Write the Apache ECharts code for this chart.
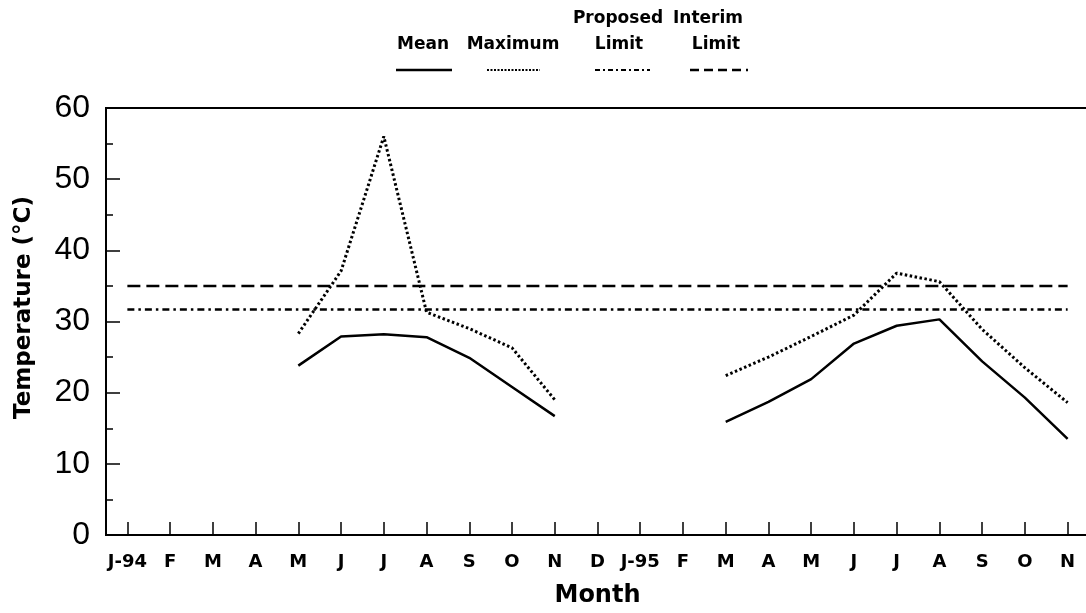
<!DOCTYPE html>
<html>
<head>
<meta charset="utf-8">
<script src="https://cdn.jsdelivr.net/npm/echarts@6/dist/echarts.min.js"></script>
<style>html,body{margin:0;padding:0;background:#fff}#c{width:1086px;height:613px}</style>
</head>
<body>
<div id="c"></div>
<script>
var months = ['J-94','F','M','A','M','J','J','A','S','O','N','D','J-95','F','M','A','M','J','J','A','S','O','N'];
var meanTemp = [null,null,null,null,23.8,27.9,28.2,27.8,24.9,20.8,16.7,null,null,null,15.9,18.7,21.9,26.9,29.4,30.3,24.4,19.3,13.5];
var maxTemp  = [null,null,null,null,28.3,37.1,56.0,31.3,29.0,26.3,19.0,null,null,null,22.4,25.0,27.9,30.9,36.8,35.6,28.9,23.5,18.6];
var proposedLimit = [31.7,31.7,31.7,31.7,31.7,31.7,31.7,31.7,31.7,31.7,31.7,31.7,31.7,31.7,31.7,31.7,31.7,31.7,31.7,31.7,31.7,31.7,31.7];
var interimLimit  = [35,35,35,35,35,35,35,35,35,35,35,35,35,35,35,35,35,35,35,35,35,35,35];
var yTicks = {min: 0, max: 60, interval: 10};

var bold = 'DejaVu Sans';
var chart = echarts.init(document.getElementById('c'), null, {renderer: 'canvas'});
function legText(t, x, y) {
  return {type: 'text', style: {text: t, x: x, y: y, align: 'center', verticalAlign: 'middle',
    fontFamily: bold, fontWeight: 'bold', fontSize: 17, fill: '#000'}};
}
function legLine(x1, x2, y, w, dash) {
  return {type: 'line', shape: {x1: x1, y1: y, x2: x2, y2: y},
    style: {stroke: '#000', lineWidth: w, lineDash: dash}};
}
chart.setOption({
  animation: false,
  backgroundColor: '#fff',
  grid: {left: 106, right: -3, top: 108, bottom: 78, show: true, borderColor: '#000', borderWidth: 2,
         containLabel: false, outerBoundsMode: 'none'},
  xAxis: {
    type: 'category', data: months, boundaryGap: true,
    name: 'Month', nameLocation: 'middle', nameGap: 49,
    nameTextStyle: {fontFamily: bold, fontWeight: 'bold', fontSize: 24, color: '#000'},
    axisLine: {show: true, lineStyle: {color: '#000', width: 2}},
    axisTick: {show: true, inside: true, alignWithLabel: true, length: 13, lineStyle: {color: '#000', width: 1.5}},
    axisLabel: {show: true, interval: 0, margin: 18, fontFamily: bold, fontWeight: 'bold', fontSize: 18, color: '#000', hideOverlap: false},
    splitLine: {show: false}
  },
  yAxis: {
    type: 'value', min: yTicks.min, max: yTicks.max, interval: yTicks.interval,
    name: 'Temperature (°C)', nameLocation: 'middle', nameGap: 70,
    nameTextStyle: {fontFamily: bold, fontWeight: 'bold', fontSize: 23, color: '#000', padding: [0, 0, 0, 28]},
    axisLine: {show: true, lineStyle: {color: '#000', width: 2}},
    axisTick: {show: true, inside: true, length: 14, lineStyle: {color: '#000', width: 1.5}},
    minorTick: {show: true, splitNumber: 2, length: 7, lineStyle: {color: '#000', width: 1.5}},
    axisLabel: {margin: 16, fontFamily: 'Liberation Sans', fontSize: 32, color: '#000'},
    splitLine: {show: false}
  },
  legend: {show: false},
  series: [
    {name: 'Mean', type: 'line', data: meanTemp, symbol: 'none', connectNulls: false,
     lineStyle: {color: '#000', width: 2.5}},
    {name: 'Maximum', type: 'line', data: maxTemp, symbol: 'none', connectNulls: false,
     lineStyle: {color: '#000', width: 3, type: [2.5, 2.5]}},
    {name: 'Proposed Limit', type: 'line', data: proposedLimit, symbol: 'none',
     lineStyle: {color: '#000', width: 2.5, type: [7, 4, 2.5, 4]}},
    {name: 'Interim Limit', type: 'line', data: interimLimit, symbol: 'none',
     lineStyle: {color: '#000', width: 2.5, type: [13, 6]}}
  ],
  graphic: [
    legText('Mean', 423, 45),
    legText('Maximum', 513, 45),
    legText('Proposed', 618, 19),
    legText('Limit', 619, 45),
    legText('Interim', 708, 19),
    legText('Limit', 716, 45),
    legLine(396, 452, 70, 2.5, null),
    legLine(487, 540, 70, 2, [2, 1.5]),
    legLine(595, 650, 70, 2, [5, 3, 2, 3]),
    legLine(690, 748, 70, 2.5, [9, 5])
  ]
});
</script>
</body>
</html>
